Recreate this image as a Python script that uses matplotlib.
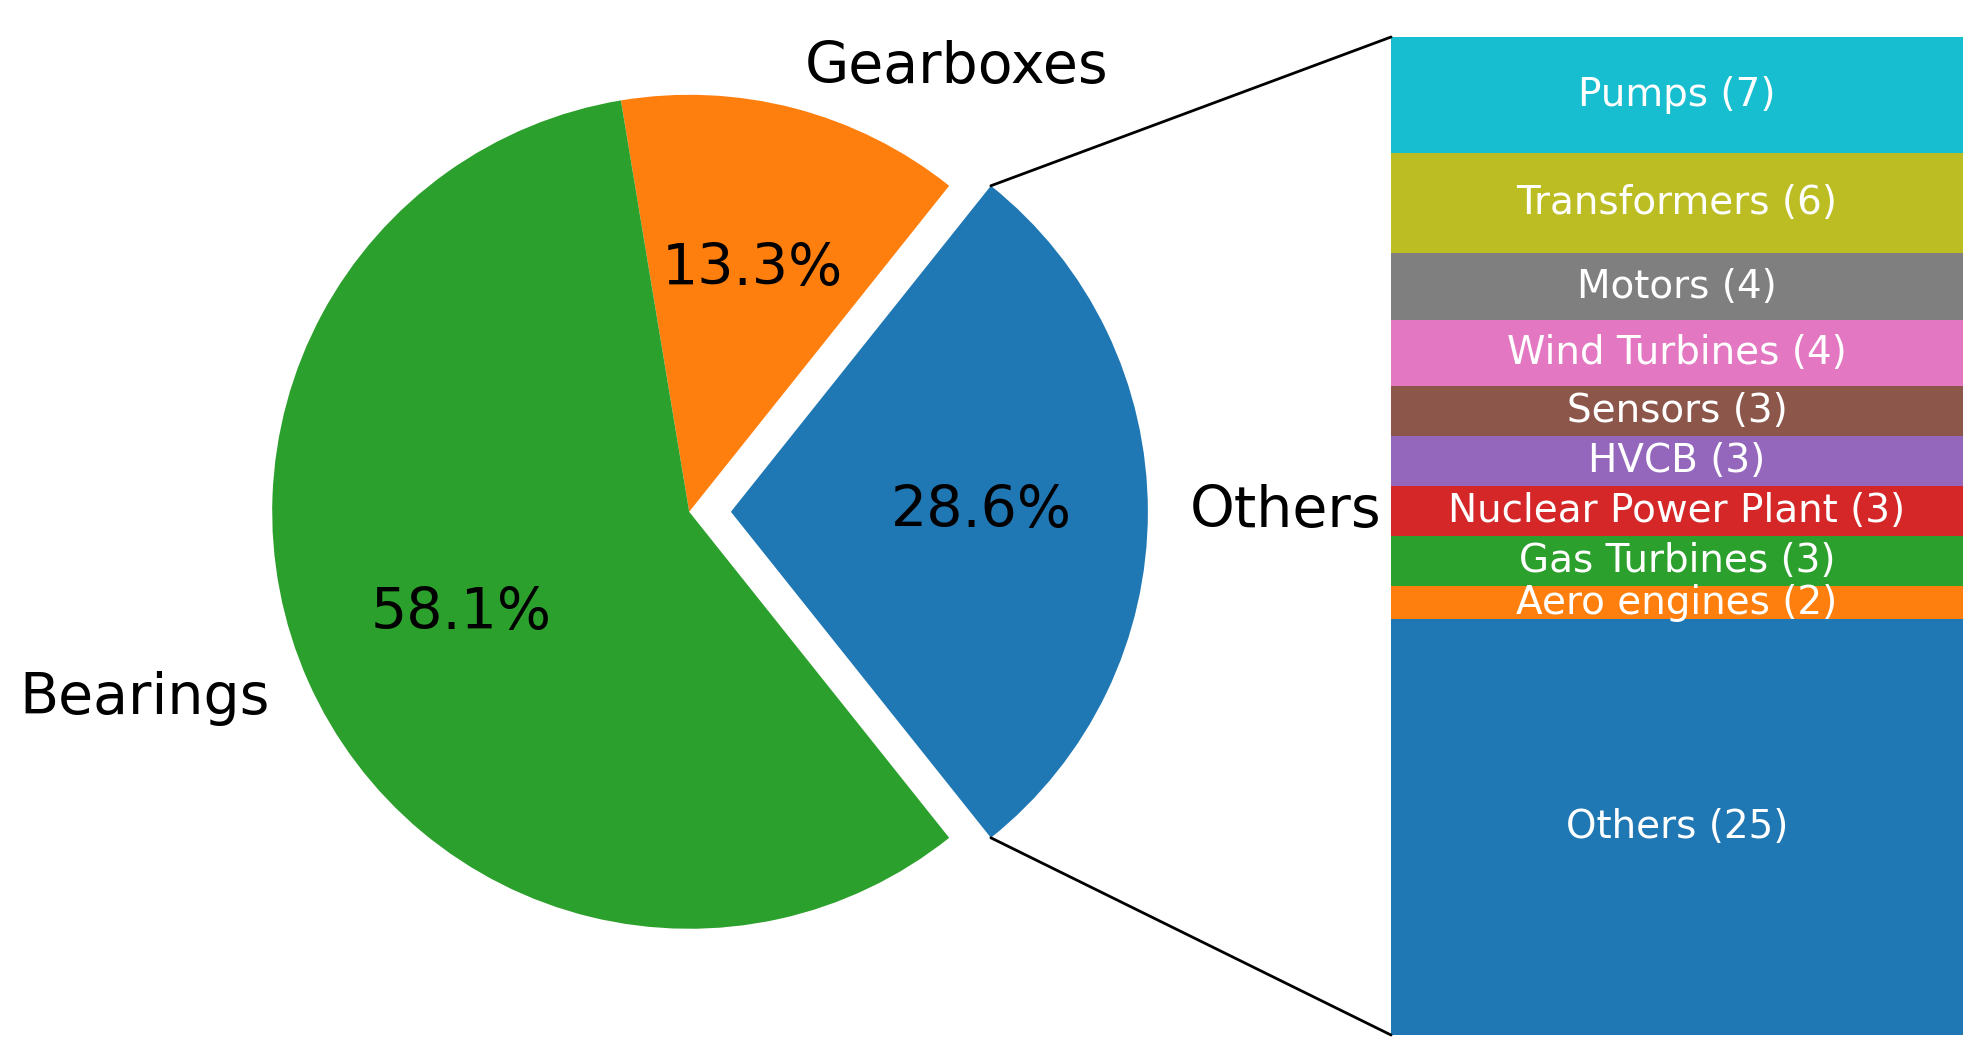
import matplotlib.pyplot as plt
from matplotlib.patches import ConnectionPatch
import numpy as np

# Pie data (counts)
pie_labels = ['Others', 'Gearboxes', 'Bearings']
pie_counts = [60, 28, 122]

# Breakdown of "Others" (stacked from bottom)
bar_labels = ['Others', 'Aero engines', 'Gas Turbines', 'Nuclear Power Plant', 'HVCB',
              'Sensors', 'Wind Turbines', 'Motors', 'Transformers', 'Pumps']
bar_counts = [25, 2, 3, 3, 3, 3, 4, 4, 6, 7]

fig = plt.figure(figsize=(19.83, 10.63), dpi=100)
ax1 = fig.add_axes([0.0847, 0.0282, 0.5257, 0.9807])
ax2 = fig.add_axes([0.7015, 0.0263, 0.2884, 0.9389])

# Pie chart, "Others" wedge exploded and centred on 0 degrees
ratios = np.array(pie_counts) / sum(pie_counts)
angle = -180 * ratios[0]
wedges, texts, autotexts = ax1.pie(pie_counts, labels=pie_labels, autopct='%1.1f%%',
                                   startangle=angle, explode=[0.1, 0, 0],
                                   textprops={'fontsize': 41})
ax1.set_xlim(-1.25, 1.25)
ax1.set_ylim(-1.25, 1.25)
ax1.set_aspect('equal')

# Stacked bar
bottom = 0
for j, (h, lab) in enumerate(zip(bar_counts, bar_labels)):
    bc = ax2.bar(0, h, 1, bottom=bottom, color='C%d' % j)
    ax2.bar_label(bc, labels=[f'{lab} ({h})'], label_type='center',
                  color='white', fontsize=28)
    bottom += h
ax2.set_xlim(-0.5, 0.5)
ax2.set_ylim(0, sum(bar_counts))
ax2.axis('off')

# Lines between wedge and bar
theta1, theta2 = wedges[0].theta1, wedges[0].theta2
center, r = wedges[0].center, wedges[0].r
total = sum(bar_counts)

x = r * np.cos(np.pi / 180 * theta2) + center[0]
y = r * np.sin(np.pi / 180 * theta2) + center[1]
con = ConnectionPatch(xyA=(-0.5, total), coordsA=ax2.transData,
                      xyB=(x, y), coordsB=ax1.transData)
con.set_color('black')
con.set_linewidth(2)
ax2.add_artist(con)

x = r * np.cos(np.pi / 180 * theta1) + center[0]
y = r * np.sin(np.pi / 180 * theta1) + center[1]
con = ConnectionPatch(xyA=(-0.5, 0), coordsA=ax2.transData,
                      xyB=(x, y), coordsB=ax1.transData)
con.set_color('black')
con.set_linewidth(2)
ax2.add_artist(con)

plt.savefig('out.png', dpi=100)
